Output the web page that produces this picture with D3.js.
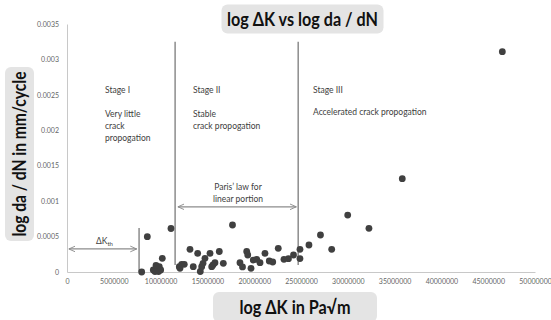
<!DOCTYPE html>
<html>
<head>
<meta charset="utf-8">
<script src="https://cdn.jsdelivr.net/npm/d3@7"></script>
<style>
  body { margin: 0; background: #fff; }
  svg { display: block; font-family: Lato, "Open Sans", sans-serif; }
</style>
</head>
<body>
<div id="chart"></div>
<script>
// ΔK in Pa√m
const deltaK = [
  7980000, 8580000, 11110000, 10180000, 9220000, 9510000, 9690000, 9860000,
  10010000, 9400000, 9780000, 12000000, 12250000, 12530000, 12070000, 13140000,
  13490000, 13960000, 14390000, 14240000, 14530000, 14740000, 15280000, 15460000,
  15810000, 15600000, 16270000, 16700000, 17680000, 18480000, 18750000, 19200000,
  19310000, 19660000, 19900000, 20270000, 20620000, 21150000, 21610000, 21980000,
  22570000, 23180000, 23660000, 24200000, 24890000, 24890000, 25850000, 27080000,
  28280000, 29990000, 32260000, 35820000, 46510000
];
// da/dN in mm/cycle
const dadN = [
  0, 0.000498, 0.000614, 0.000193, 0.000028, 0.000092, 0.000035, 0.000075,
  0.000028, 0.000007, 0.000007, 0.000075, 0.000109, 0.000109, 0.000052, 0.00032,
  0.000075, 0.000264, 0.000075, 0.000007, 0.000123, 0.000193, 0.000264, 0.000075,
  0.000131, 0.0001, 0.000289, 0.000123, 0.000663, 0.000131, 0.000071, 0.000289,
  0.00024, 0.000052, 0.000169, 0.000179, 0.000131, 0.000264, 0.000155, 0.000141,
  0.000334, 0.000179, 0.000188, 0.00024, 0.00032, 0.00019, 0.000381, 0.000522,
  0.00032, 0.000804, 0.000617, 0.001317, 0.003109
];
const xTicks = [0, 5000000, 10000000, 15000000, 20000000, 25000000, 30000000, 35000000, 40000000, 45000000, 50000000];
const yTicks = [0, 0.0005, 0.001, 0.0015, 0.002, 0.0025, 0.003, 0.0035];
// stage boundaries (ΔK)
const thresholdK = 7700000;
const stageBounds = [11550000, 24700000];

const width = 551, height = 320;
const svg = d3.select("#chart").append("svg")
  .attr("width", width).attr("height", height);

const x = d3.scaleLinear().domain([0, 50000000]).range([67, 535]);
const y = d3.scaleLinear().domain([0, 0.0035]).range([272, 24]);

const defs = svg.append("defs");
defs.append("marker")
  .attr("id", "arr").attr("viewBox", "0 0 10 10")
  .attr("refX", 9).attr("refY", 5)
  .attr("markerWidth", 6).attr("markerHeight", 6)
  .attr("orient", "auto-start-reverse")
  .append("path").attr("d", "M0,1 L9,5 L0,9").attr("fill", "none")
  .attr("stroke", "#8c8c8c").attr("stroke-width", 1.3);

// axes
const xAxis = svg.append("g")
  .attr("transform", `translate(0,${y(0)})`)
  .call(d3.axisBottom(x).tickValues(xTicks).tickSize(0).tickPadding(7)
    .tickFormat(d3.format("d")));
const yAxis = svg.append("g")
  .attr("transform", `translate(${x(0)},0)`)
  .call(d3.axisLeft(y).tickValues(yTicks).tickSize(0).tickPadding(8)
    .tickFormat(d => String(d)));
[xAxis, yAxis].forEach(a => {
  a.select(".domain").attr("stroke", "#c8c8c8").attr("stroke-width", 1);
  a.selectAll("text").attr("fill", "#666").style("font-size", "7px")
    .style("font-family", "Lato, sans-serif");
});

// stage lines
const lineColor = "#8c8c8c";
svg.append("line")
  .attr("x1", x(thresholdK)).attr("x2", x(thresholdK))
  .attr("y1", y(0.00062)).attr("y2", y(0))
  .attr("stroke", lineColor).attr("stroke-width", 1.5);
svg.selectAll(".stage").data(stageBounds).enter().append("line")
  .attr("x1", d => x(d)).attr("x2", d => x(d))
  .attr("y1", y(0.00325)).attr("y2", y(0.0001))
  .attr("stroke", lineColor).attr("stroke-width", 1.5);

// arrows
svg.append("line")
  .attr("x1", x(200000)).attr("x2", x(7450000))
  .attr("y1", y(0.000325)).attr("y2", y(0.000325))
  .attr("stroke", lineColor).attr("stroke-width", 1.2)
  .attr("marker-start", "url(#arr)").attr("marker-end", "url(#arr)");
svg.append("line")
  .attr("x1", x(11850000)).attr("x2", x(24500000))
  .attr("y1", y(0.00092)).attr("y2", y(0.00092))
  .attr("stroke", lineColor).attr("stroke-width", 1.2)
  .attr("marker-start", "url(#arr)").attr("marker-end", "url(#arr)");

// points
svg.selectAll(".pt").data(deltaK).enter().append("circle")
  .attr("class", "pt")
  .attr("cx", d => x(d))
  .attr("cy", (d, i) => y(dadN[i]))
  .attr("r", 3.4)
  .attr("fill", "#404040");

// annotation text
const note = (tx, ty, lines, lh, anchor) => {
  const t = svg.append("text").attr("x", tx).attr("y", ty)
    .attr("fill", "#404040").style("font-size", "8.5px")
    .attr("text-anchor", anchor || "start");
  lines.forEach((l, i) => t.append("tspan").attr("x", tx)
    .attr("dy", i ? lh : 0).text(l));
};
note(105, 93, ["Stage I"]);
note(105, 117, ["Very little", "crack", "propogation"], 12);
note(193, 93, ["Stage II"]);
note(193, 117, ["Stable", "crack propogation"], 12);
note(313, 93, ["Stage III"]);
note(313, 115, ["Accelerated crack propogation"]);
note(238, 190, ["Paris\u2019 law for", "linear portion"], 12, "middle");

const kth = svg.append("text").attr("x", 96).attr("y", 244)
  .attr("fill", "#404040").style("font-size", "8.5px");
kth.append("tspan").text("\u0394K");
kth.append("tspan").attr("dy", 2).style("font-size", "6px").text("th");

// titled boxes; glyphs squeezed to the narrow width seen in the original
const box = (cx, cy, w, h, label, textW, rotate) => {
  const g = svg.append("g")
    .attr("transform", `translate(${cx},${cy})${rotate ? " rotate(-90)" : ""}`);
  g.append("rect").attr("x", -w / 2).attr("y", -h / 2)
    .attr("width", w).attr("height", h).attr("rx", 6)
    .attr("fill", "#e4e4e4");
  g.append("text").attr("text-anchor", "middle").attr("dy", "0.35em")
    .attr("fill", "#111").style("font-size", "19px").style("font-weight", 700)
    .attr("textLength", textW).attr("lengthAdjust", "spacingAndGlyphs")
    .text(label);
};
box(302.5, 19, 162, 29, "log \u0394K vs log da / dN", 151);
box(295, 307, 164, 30, "log \u0394K in Pa\u221Am", 111);
box(19.5, 154, 174, 29, "log da / dN in mm/cycle", 165, true);
</script>
</body>
</html>
